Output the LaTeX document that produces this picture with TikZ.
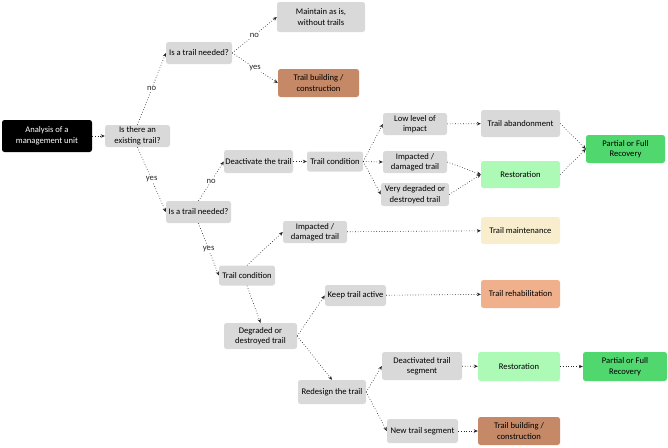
\documentclass[tikz,border=0pt]{standalone}
\usepackage{fontspec}
\setmainfont{Carlito}
\usetikzlibrary{arrows.meta}
\definecolor{boxgray}{RGB}{217,217,217}
\definecolor{buildbrown}{RGB}{197,137,104}
\definecolor{restgreen}{RGB}{173,250,182}
\definecolor{recgreen}{RGB}{80,216,110}
\definecolor{maintyellow}{RGB}{248,238,206}
\definecolor{rehabsalmon}{RGB}{240,176,140}
\tikzset{
  box/.style={rectangle, rounded corners=2.5pt, fill=boxgray, align=center,
    inner sep=1pt, minimum height=22pt, font=\fontsize{8.6}{10.5}\selectfont},
  flow/.style={dotted, line width=0.65pt, black!85, -{Stealth[length=4pt,width=3.5pt]}},
  choice/.style={midway, fill=white, inner sep=1pt, font=\fontsize{8.6}{10.5}\selectfont}
}
\begin{document}
\begin{tikzpicture}[x=1pt,y=-1pt]
        \useasboundingbox (0,0) rectangle (668,447);

        % Start and first question
        \node[box, fill=black, text=white, minimum width=90pt, minimum height=32pt] (unit) at (47,136) {Analysis of a\\management unit};
        \node[box, minimum width=65pt] (existing) at (137.5,136) {Is there an\\existing trail?};

        % No existing trail
        \node[box, minimum width=66pt] (needA) at (199,53) {Is a trail needed?};
        \node[box, minimum width=88pt, minimum height=30pt] (maintain) at (321,17) {Maintain as is,\\without trails};
        \node[box, fill=buildbrown, minimum width=81pt, minimum height=28pt] (buildA) at (318.5,83) {Trail building /\\construction};

        % Existing trail, not needed
        \node[box, minimum width=65pt] (needB) at (198.5,212) {Is a trail needed?};
        \node[box, minimum width=69pt, minimum height=23pt] (deact) at (258.5,161.5) {Deactivate the trail};
        \node[box, minimum width=56pt, minimum height=20pt] (condA) at (335,161.5) {Trail condition};
        \node[box, minimum width=64pt] (low) at (415,124) {Low level of\\impact};
        \node[box, minimum width=64pt] (impA) at (415,162) {Impacted /\\damaged trail};
        \node[box, minimum width=68pt, minimum height=23pt] (very) at (415,194.5) {Very degraded or\\destroyed trail};
        \node[box, minimum width=79pt, minimum height=27pt] (aband) at (520.5,123.5) {Trail abandonment};
        \node[box, fill=restgreen, minimum width=79pt, minimum height=27pt] (restA) at (520.5,174.5) {Restoration};
        \node[box, fill=recgreen, minimum width=79pt, minimum height=28pt] (recA) at (625.5,149) {Partial or Full\\Recovery};

        % Existing trail, needed
        \node[box, minimum width=56pt, minimum height=20pt] (condB) at (247,275.5) {Trail condition};
        \node[box, minimum width=64pt] (impB) at (315,232) {Impacted /\\damaged trail};
        \node[box, fill=maintyellow, minimum width=79pt, minimum height=27pt] (maint) at (520.5,230.5) {Trail maintenance};
        \node[box, minimum width=73pt, minimum height=26pt] (degr) at (260.5,336) {Degraded or\\destroyed trail};
        \node[box, minimum width=61pt, minimum height=21pt] (keep) at (355.5,295.5) {Keep trail active};
        \node[box, fill=rehabsalmon, minimum width=79pt, minimum height=28pt] (rehab) at (520.5,294) {Trail rehabilitation};
        \node[box, minimum width=68pt, minimum height=24pt] (redes) at (332,392) {Redesign the trail};
        \node[box, minimum width=80pt, minimum height=28pt] (seg) at (422,366) {Deactivated trail\\segment};
        \node[box, fill=restgreen, minimum width=82pt, minimum height=29pt] (restB) at (519,366.5) {Restoration};
        \node[box, fill=recgreen, minimum width=84pt, minimum height=29pt] (recB) at (625,366.5) {Partial or Full\\Recovery};
        \node[box, minimum width=71pt, minimum height=24pt] (newseg) at (422.5,431) {New trail segment};
        \node[box, fill=buildbrown, minimum width=82pt, minimum height=28pt] (buildB) at (519,431) {Trail building /\\construction};

        % Connectors
        \draw[flow] (unit) -- (existing);
        \draw[flow] (existing.north) -- (needA.west) node[choice] {no};
        \draw[flow] (existing.south) -- (needB.west) node[choice] {yes};
        \draw[flow] (needA.east) -- (maintain.west) node[choice] {no};
        \draw[flow] (needA.east) -- (buildA.west) node[choice] {yes};
        \draw[flow] (needB.north) -- (deact.west) node[choice] {no};
        \draw[flow] (needB.south) -- (condB.west) node[choice] {yes};
        \draw[flow] (deact) -- (condA);
        \draw[flow] (condA.east) -- (low.west);
        \draw[flow] (condA.east) -- (impA.west);
        \draw[flow] (condA.east) -- (very.west);
        \draw[flow] (low) -- (aband);
        \draw[flow] (impA.east) -- (restA.west);
        \draw[flow] (very.east) -- (restA.west);
        \draw[flow] (aband.east) -- (recA.west);
        \draw[flow] (restA.east) -- (recA.west);
        \draw[flow] (condB.north) -- (impB.west);
        \draw[flow] (impB) -- (maint);
        \draw[flow] (condB.south) -- (degr.north);
        \draw[flow] (degr.east) -- (keep.west);
        \draw[flow] (degr.east) -- (redes.north);
        \draw[flow] (keep) -- (rehab);
        \draw[flow] (redes.east) -- (seg.west);
        \draw[flow] (redes.east) -- (newseg.west);
        \draw[flow] (seg) -- (restB);
        \draw[flow] (restB) -- (recB);
        \draw[flow] (newseg) -- (buildB);
    \end{tikzpicture}
\end{document}
